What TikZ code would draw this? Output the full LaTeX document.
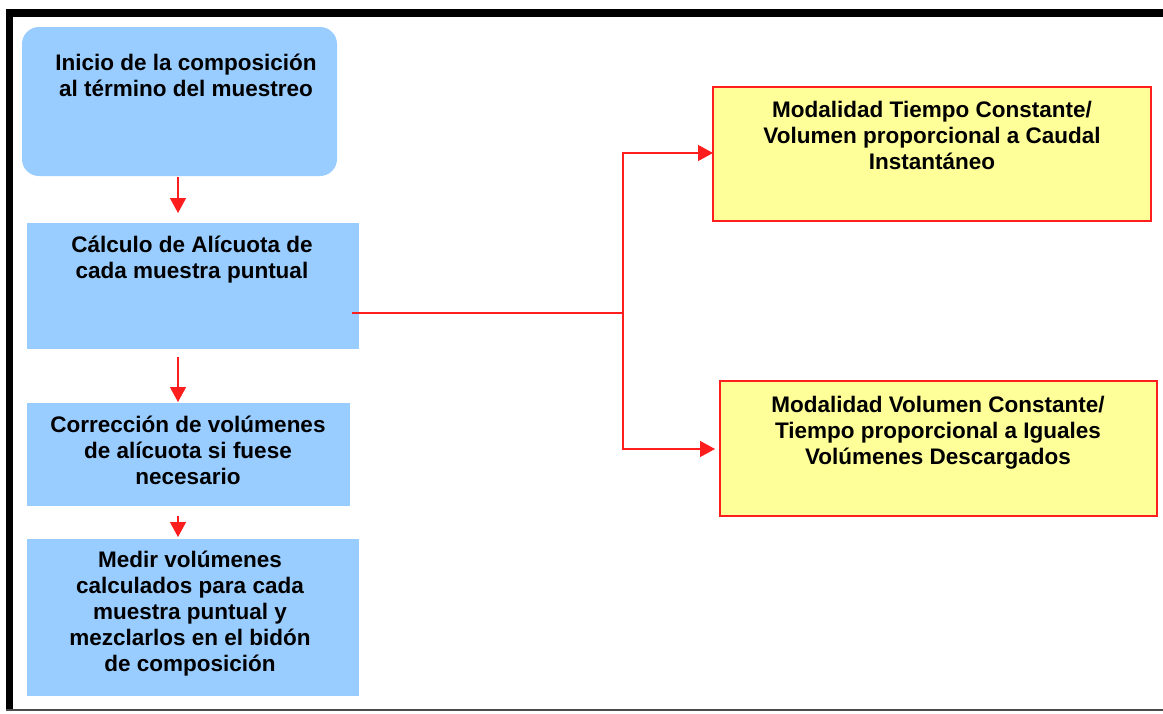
\documentclass[tikz,border=0pt]{standalone}
\usepackage{fontspec}
\setmainfont{Liberation Sans}
\usetikzlibrary{arrows.meta}
\definecolor{boxblue}{RGB}{153,204,255}
\definecolor{boxyellow}{RGB}{255,255,153}
\definecolor{linered}{RGB}{255,30,30}
\begin{document}
\begin{tikzpicture}[x=1pt,y=-1pt,
  txt/.style={font=\bfseries\fontsize{22.5}{26}\selectfont, align=center, anchor=north, inner sep=0pt},
  bluebox/.style={fill=boxblue, draw=none},
  yelbox/.style={fill=boxyellow, draw=linered, line width=1.8pt},
  flow/.style={draw=linered, line width=1.3pt, -{Triangle[length=15pt,width=16pt]}},
  fork/.style={draw=linered, line width=1.3pt}]
\useasboundingbox (0,0) rectangle (1163,713);
\fill[white] (0,0) rectangle (1163,713);
% frame
\fill[black] (6,9) rectangle (1163,17);
\fill[black] (6,9) rectangle (13,711);
\fill[black!70] (6,709) rectangle (1163,711);
% boxes
\fill[boxblue, rounded corners=17pt] (22,27) rectangle (337,176);
\node[txt] (b1) at (186,54) {Inicio de la composición\\al término del muestreo};
\coordinate (b1s) at (178,177);
\fill[boxblue] (27,223) rectangle (359,349);
\node[txt] (b2) at (192,236) {Cálculo de Alícuota de\\cada muestra puntual};
\coordinate (b2s) at (178,357);
\coordinate (b2r) at (352,313);
\fill[boxblue] (27,403) rectangle (350,506);
\node[txt] (b3) at (188,416) {Corrección de volúmenes\\de alícuota si fuese\\necesario};
\coordinate (b3s) at (178,516);
\fill[boxblue] (27,539) rectangle (359,696);
\node[txt] (b4) at (190,551) {Medir volúmenes\\calculados para cada\\muestra puntual y\\mezclarlos en el bidón\\de composición};
% right boxes
\draw[yelbox] (713,87) rectangle (1151,221);
\node[txt] (b5) at (932,101) {Modalidad Tiempo Constante/\\Volumen proporcional a Caudal\\Instantáneo};
\coordinate (b5l) at (713,153);
\draw[yelbox] (720,381) rectangle (1157,516);
\node[txt] (b6) at (938,396) {Modalidad Volumen Constante/\\Tiempo proporcional a Iguales\\Volúmenes Descargados};
\coordinate (b6l) at (715,449);
% connectors
\draw[flow] (b1s) -- (178,213);
\draw[flow] (b2s) -- (178,402);
\draw[flow] (b3s) -- (178,537);
\coordinate (fk) at (623,313);
\draw[fork] (b2r) -- (fk);
\draw[flow] (fk) |- (b5l);
\draw[flow] (fk) |- (b6l);
\end{tikzpicture}
\end{document}
